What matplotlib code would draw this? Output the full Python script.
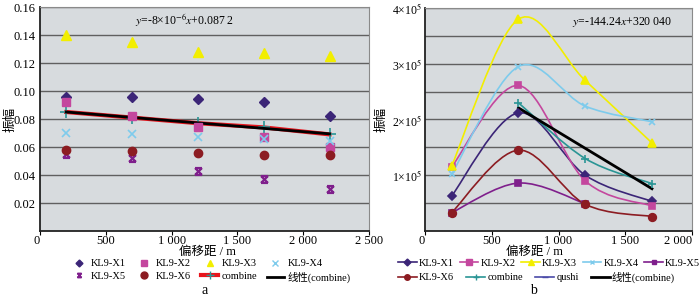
import numpy as np
import matplotlib
matplotlib.use("Agg")
import matplotlib.pyplot as plt
from matplotlib.path import Path
from matplotlib.patches import PathPatch
from matplotlib.lines import Line2D
from matplotlib.legend_handler import HandlerLine2D

plt.rcParams["font.family"] = ["Liberation Serif", "Noto Sans CJK SC"]
plt.rcParams["mathtext.fontset"] = "stix"

# panel a: amplitude vs offset
offset_a = [200, 700, 1200, 1700, 2200]
a_x1 = [0.0955, 0.0955, 0.094, 0.092, 0.082]
a_x2 = [0.092, 0.082, 0.074, 0.067, 0.060]
a_x3 = [0.140, 0.135, 0.128, 0.127, 0.125]
a_x4 = [0.070, 0.069, 0.067, 0.066, 0.064]
a_x5 = [0.055, 0.052, 0.043, 0.037, 0.030]
a_x6 = [0.058, 0.057, 0.0555, 0.0545, 0.054]
a_combine = [0.085, 0.081, 0.077, 0.074, 0.069]

# panel b
offset_b = [200, 700, 1200, 1700]
b_x1 = [0.63e5, 2.12e5, 1.00e5, 0.53e5]
b_x2 = [1.15e5, 2.61e5, 0.90e5, 0.45e5]
b_x3 = [1.17e5, 3.80e5, 2.70e5, 1.58e5]
b_x4 = [1.02e5, 2.95e5, 2.24e5, 1.96e5]
offset_b5 = [200, 700, 1200]
b_x5 = [0.33e5, 0.86e5, 0.49e5]
b_x6 = [0.33e5, 1.45e5, 0.48e5, 0.26e5]
offset_bc = [700, 1200, 1700]
b_combine = [2.30e5, 1.30e5, 0.85e5]

c_x1 = "#3b2577"
c_x2 = "#c4479e"
c_x3 = "#f2ee00"
c_x4 = "#7ecbec"
c_x5 = "#7f1f8c"
c_x6 = "#8c1c22"
c_comb = "#2a9595"
c_qushi = "#4a4aa8"
bg = "#d7dbde"
grid_c = "#606060"

hourglass = Path([(-1, 1), (1, -1), (-1, -1), (1, 1), (-1, 1), (1, 1), (-1, -1), (1, -1)],
                 [Path.MOVETO, Path.LINETO] * 4)


class MarkerRight(HandlerLine2D):
    # put the marker near the text, like the Excel legend
    def get_xdata(self, legend, xdescent, ydescent, width, height, fontsize):
        xd, xm = super().get_xdata(legend, xdescent, ydescent, width, height, fontsize)
        return xd, [width * 0.8 - xdescent]


def smooth(xs, ys, k=1 / 6):
    pts = np.column_stack([xs, ys]).astype(float)
    n = len(pts)
    verts = [pts[0]]
    codes = [Path.MOVETO]
    for i in range(n - 1):
        p0 = pts[max(i - 1, 0)]
        p1 = pts[i]
        p2 = pts[i + 1]
        p3 = pts[min(i + 2, n - 1)]
        verts += [p1 + (p2 - p0) * k, p2 - (p3 - p1) * k, p2]
        codes += [Path.CURVE4] * 3
    return Path(verts, codes)


def style(ax):
    ax.set_facecolor(bg)
    ax.grid(axis="y", color=grid_c, lw=1.0)
    ax.set_axisbelow(True)
    for s in ["top", "right"]:
        ax.spines[s].set_color("#8a8a8a")
    for s in ["left", "bottom"]:
        ax.spines[s].set_color("#222222")
        ax.spines[s].set_linewidth(1.3)
    ax.tick_params(axis="y", length=0, labelsize=9, pad=3)
    ax.tick_params(axis="x", length=3, direction="out", labelsize=9, pad=0)


fig = plt.figure(figsize=(7, 2.98), dpi=100)

# ---- panel a ----
ax1 = fig.add_axes([40 / 700, 67 / 298, 329 / 700, 224 / 298])
style(ax1)
ax1.set_xlim(0, 2500)
ax1.set_ylim(0, 0.16)
ax1.set_xticks([0, 500, 1000, 1500, 2000, 2500])
ax1.set_xticklabels(["0", "500", "1 000", "1 500", "2 000", "2 500"])
ax1.get_xticklabels()[0].set_ha("right")
ax1.set_yticks(np.arange(0.02, 0.161, 0.02))
ax1.set_yticklabels(["%.2f" % v for v in np.arange(0.02, 0.161, 0.02)])
ax1.set_ylabel("振幅", fontsize=9)
ax1.yaxis.set_label_coords(-24 / 329, 0.5)

ax1.plot(offset_a, a_combine, color="#e8141c", lw=3, zorder=3)
ax1.plot(offset_a, a_combine, ls="none", marker="+", ms=9, mew=1.2, color=c_comb, zorder=4)
fit_a = np.polyfit(offset_a, a_combine, 1)
ax1.plot([offset_a[0], offset_a[-1]], np.polyval(fit_a, [offset_a[0], offset_a[-1]]),
         color="black", lw=2, zorder=5)
ax1.plot(offset_a, a_x1, ls="none", marker="D", ms=5, color=c_x1, zorder=6)
ax1.plot(offset_a, a_x2, ls="none", marker="s", ms=6, color=c_x2, zorder=6)
ax1.plot(offset_a, a_x3, ls="none", marker="^", ms=7, color=c_x3, zorder=6)
ax1.plot(offset_a, a_x4, ls="none", marker="x", ms=5.5, mew=1.2, color=c_x4, zorder=6)
ax1.plot(offset_a, a_x5, ls="none", marker=hourglass, ms=5, mew=1.6, color=c_x5, zorder=6)
ax1.plot(offset_a, a_x6, ls="none", marker="o", ms=6, color=c_x6, zorder=6)
ax1.text(95 / 329, 0.925, r"$y$=-8×10$^{-6}$$x$+0.087 2", transform=ax1.transAxes, fontsize=8.5)

la = [
    Line2D([], [], ls="none", marker="D", ms=3.5, color=c_x1),
    Line2D([], [], ls="none", marker=hourglass, ms=3, mew=1.2, color=c_x5),
    Line2D([], [], ls="none", marker="s", ms=4.5, color=c_x2),
    Line2D([], [], ls="none", marker="o", ms=5, color=c_x6),
    Line2D([], [], ls="none", marker="^", ms=5, color=c_x3),
    Line2D([], [], color="#e8141c", lw=3, marker="+", ms=6, mec=c_comb),
    Line2D([], [], ls="none", marker="x", ms=4, color=c_x4),
    Line2D([], [], color="black", lw=2),
]
la_labels = ["KL9-X1", "KL9-X5", "KL9-X2", "KL9-X6", "KL9-X3", "combine", "KL9-X4", "线性(combine)"]
hm = {h: MarkerRight() for h in la if h.get_linestyle() == "None"}
fig.legend(la, la_labels, handler_map=hm, loc="center left",
           bbox_to_anchor=(70 / 700, 1 - 271 / 298), ncol=4,
           frameon=False, fontsize=7.5, handlelength=1.7, handletextpad=0.3,
           columnspacing=0.9, labelspacing=0.35, borderpad=0, borderaxespad=0)

# ---- panel b ----
ax2 = fig.add_axes([425 / 700, 67 / 298, 267 / 700, 223 / 298])
style(ax2)
ax2.tick_params(axis="y", labelsize=8.5, pad=2)
ax2.set_xlim(0, 2000)
ax2.set_ylim(0, 4e5)
ax2.set_xticks([0, 500, 1000, 1500, 2000])
ax2.set_xticklabels(["0", "500", "1 000", "1 500", "2 000"])
ax2.get_xticklabels()[-1].set_ha("right")
ax2.get_xticklabels()[0].set_ha("right")
ax2.set_yticks(np.arange(0.5e5, 4.01e5, 0.5e5))
ax2.set_yticklabels(["" if i % 2 == 0 else r"%d×10$^5$" % ((i + 1) // 2) for i in range(8)])
ax2.set_ylabel("振幅", fontsize=9)
ax2.yaxis.set_label_coords(-38 / 267, 0.5)

series_b = [
    (offset_b, b_x1, c_x1, "D", 4.5),
    (offset_b, b_x2, c_x2, "s", 5),
    (offset_b, b_x3, c_x3, "^", 5.5),
    (offset_b, b_x4, c_x4, "x", 5),
    (offset_b5, b_x5, c_x5, "s", 4.5),
    (offset_b, b_x6, c_x6, "o", 5.5),
    (offset_bc, b_combine, c_comb, "+", 6),
]
for xs, ys, col, mk, ms in series_b:
    ax2.add_patch(PathPatch(smooth(xs, ys), fill=False, edgecolor=col, lw=1.2, zorder=3))
    ax2.plot(xs, ys, ls="none", marker=mk, ms=ms, mew=1.2, color=col, zorder=5)
fit_b = np.polyfit(offset_bc, b_combine, 1)
ax2.plot([offset_bc[0], offset_bc[-1]], np.polyval(fit_b, [offset_bc[0], offset_bc[-1]]),
         color="black", lw=2, zorder=4)
ax2.text(147 / 267, 0.925, r"$y$=-144.24$x$+320 040", transform=ax2.transAxes, fontsize=8.5)

lb1 = [
    Line2D([], [], color=c_x1, lw=1.2, marker="D", ms=3.5),
    Line2D([], [], color=c_x2, lw=1.2, marker="s", ms=4),
    Line2D([], [], color=c_x3, lw=1.2, marker="^", ms=4),
    Line2D([], [], color=c_x4, lw=1.2, marker="x", ms=3.5),
    Line2D([], [], color=c_x5, lw=1.2, marker="s", ms=3.5),
]
lb1_labels = ["KL9-X1", "KL9-X2", "KL9-X3", "KL9-X4", "KL9-X5"]
lb2 = [
    Line2D([], [], color=c_x6, lw=1.2, marker="o", ms=4),
    Line2D([], [], color=c_comb, lw=1.2, marker="+", ms=5),
    Line2D([], [], color=c_qushi, lw=1.2, marker="_", ms=4),
    Line2D([], [], color="black", lw=2),
]
lb2_labels = ["KL9-X6", "combine", "qushi", "线性(combine)"]
fig.legend(lb1, lb1_labels, loc="center left", bbox_to_anchor=(398 / 700, 1 - 263 / 298),
           ncol=5, frameon=False, fontsize=7.5, handlelength=1.8, handletextpad=0.2,
           columnspacing=0.55, borderpad=0, borderaxespad=0)
fig.legend(lb2, lb2_labels, loc="center left", bbox_to_anchor=(398 / 700, 1 - 277 / 298),
           ncol=4, frameon=False, fontsize=7.5, handlelength=1.8, handletextpad=0.2,
           columnspacing=1.2, borderpad=0, borderaxespad=0)

fig.text(207 / 700, 1 - 252 / 298, "偏移距 / m", ha="center", va="center", fontsize=9)
fig.text(534 / 700, 1 - 252 / 298, "偏移距 / m", ha="center", va="center", fontsize=9)
fig.text(205 / 700, 1 - 290 / 298, "a", ha="center", va="center", fontsize=10)
fig.text(533 / 700, 1 - 290 / 298, "b", ha="center", va="center", fontsize=10)

fig.savefig("out.png", dpi=100)
